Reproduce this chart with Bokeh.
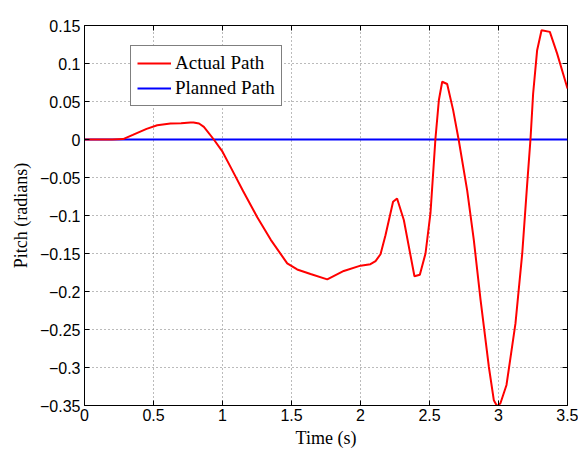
import math
from bokeh.plotting import figure
from bokeh.models import FixedTicker, CustomJSTickFormatter, Legend, LegendItem, Range1d
from bokeh.embed import file_html
from bokeh.resources import INLINE

# Data
t_actual = [0.0, 0.1, 0.2, 0.28, 0.35, 0.45, 0.527, 0.623, 0.7, 0.768, 0.79, 0.83, 0.865,
            0.937, 1.0, 1.058, 1.15, 1.251, 1.35, 1.469, 1.541, 1.638, 1.759, 1.879,
            2.0, 2.072, 2.109, 2.145, 2.181, 2.236, 2.265, 2.314, 2.391, 2.43, 2.471,
            2.507, 2.543, 2.568, 2.592, 2.628, 2.671, 2.712, 2.773, 2.821, 2.87, 2.93,
            2.966, 2.99, 3.014, 3.058, 3.123, 3.172, 3.208, 3.232, 3.251, 3.28, 3.312,
            3.372, 3.425, 3.5]
y_actual = [0.0, 0.0, 0.0, 0.0005, 0.006, 0.014, 0.0188, 0.021, 0.0215, 0.0224, 0.0225, 0.021, 0.0166,
            0.0, -0.016, -0.036, -0.068, -0.102, -0.132, -0.163, -0.171, -0.177, -0.184, -0.173,
            -0.166, -0.164, -0.160, -0.151, -0.126, -0.082, -0.0777, -0.106, -0.18, -0.178, -0.15,
            -0.097, 0.001, 0.052, 0.076, 0.073, 0.039, -0.001, -0.067, -0.132, -0.211, -0.299,
            -0.343, -0.351, -0.347, -0.323, -0.242, -0.15, -0.058, 0.001, 0.0605, 0.1175, 0.1438,
            0.1416, 0.113, 0.067]
t_planned = [0.0, 3.5]
y_planned = [0.0, 0.0]

x_ticks = [0, 0.5, 1, 1.5, 2, 2.5, 3, 3.5]
y_ticks = [-0.35, -0.3, -0.25, -0.2, -0.15, -0.1, -0.05, 0, 0.05, 0.1, 0.15]
x_min, x_max = 0, 3.5
y_min, y_max = -0.35, 0.15

p = figure(width=578, height=450, output_backend="svg", toolbar_location=None,
           x_range=Range1d(x_min, x_max), y_range=Range1d(y_min, y_max),
           min_border_left=84, min_border_right=11, min_border_top=25, min_border_bottom=45,
           x_axis_label="Time (s)", y_axis_label="Pitch (radians)")

fmt = CustomJSTickFormatter(code="""
let s = (Math.round(tick*1000)/1000).toString();
return s.replace('-', '\u2212');
""")

p.outline_line_color = "black"
p.outline_line_width = 1
p.background_fill_color = "white"
p.border_fill_color = "white"

for ax, ticks in ((p.xaxis[0], x_ticks), (p.yaxis[0], y_ticks)):
    ax.ticker = FixedTicker(ticks=ticks)
    ax.formatter = fmt
    ax.major_tick_in = 5
    ax.major_tick_out = 0
    ax.minor_tick_line_color = None
    ax.axis_line_color = "black"
    ax.major_tick_line_color = "black"
    ax.major_label_text_font = "Liberation Sans"
    ax.major_label_text_font_size = "16px"
    ax.major_label_text_color = "black"
    ax.axis_label_text_font = "Liberation Serif"
    ax.axis_label_text_font_size = "18px"
    ax.axis_label_text_font_style = "normal"
    ax.axis_label_text_color = "black"
p.xaxis[0].major_label_standoff = 3
p.yaxis[0].major_label_standoff = 4
p.xaxis[0].axis_label_standoff = 4
p.yaxis[0].axis_label_standoff = 6

# inward ticks on the top and right edges (MATLAB box style), clipped to the frame
p.scatter(x_ticks, [y_max] * len(x_ticks), marker="dash", angle=math.pi / 2, size=10,
          line_color="black", line_width=1)
p.scatter([x_max] * len(y_ticks), y_ticks, marker="dash", angle=0, size=10,
          line_color="black", line_width=1)

for g, ticks in ((p.xgrid[0], x_ticks), (p.ygrid[0], y_ticks)):
    g.ticker = FixedTicker(ticks=ticks)
    g.grid_line_color = "#777777"
    g.grid_line_dash = "1 3"
    g.grid_line_width = 1

r_plan = p.line(t_planned, y_planned, line_color="#0000ff", line_width=2)
r_act = p.line(t_actual, y_actual, line_color="#ff0000", line_width=2)

legend = Legend(items=[LegendItem(label="Actual Path", renderers=[r_act]),
                       LegendItem(label="Planned Path", renderers=[r_plan])],
                location=(46, 299))
legend.label_text_font = "Liberation Serif"
legend.label_text_font_size = "19px"
legend.label_text_color = "black"
legend.border_line_color = "black"
legend.border_line_width = 1
legend.background_fill_color = "white"
legend.background_fill_alpha = 1
legend.padding = 6
legend.spacing = 3
legend.label_height = 22
legend.glyph_height = 22
legend.glyph_width = 34
legend.label_standoff = 4
legend.margin = 0
p.add_layout(legend, "center")

open("out.html", "w").write(file_html(p, INLINE))
